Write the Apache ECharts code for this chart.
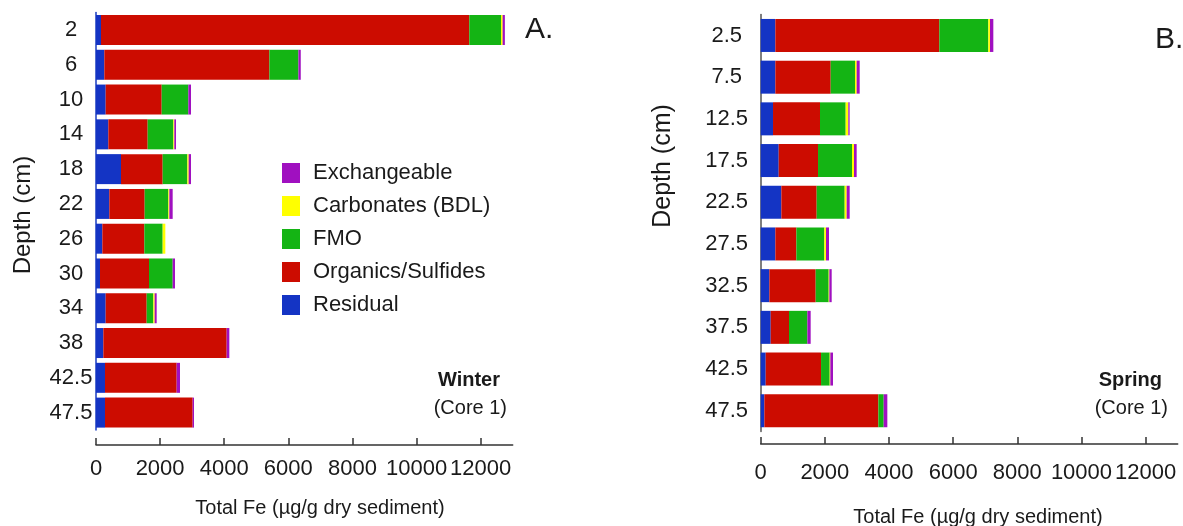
<!DOCTYPE html>
<html>
<head>
<meta charset="utf-8">
<script src="https://cdn.jsdelivr.net/npm/echarts@6/dist/echarts.min.js"></script>
<style>
html,body{margin:0;padding:0;background:#fff;}
#c{width:1183px;height:526px;}
</style>
</head>
<body>
<div id="c"></div>
<script>
// ---- Data ----
const winterDepths = ['2','6','10','14','18','22','26','30','34','38','42.5','47.5'];
const winterResidual     = [156, 260, 302, 385, 780, 416, 198, 125, 302, 229, 281, 281];
const winterOrganics     = [11490, 5150, 1747, 1227, 1300, 1102, 1310, 1529, 1279, 3848, 2236, 2735];
const winterFMO          = [990, 905, 832, 801, 770, 739, 572, 738, 208, 0, 0, 0];
const winterCarbonates   = [50, 0, 0, 31, 41, 31, 83, 0, 41, 0, 0, 0];
const winterExchangeable = [70, 73, 83, 52, 73, 104, 0, 73, 63, 83, 104, 42];

const springDepths = ['2.5','7.5','12.5','17.5','22.5','27.5','32.5','37.5','42.5','47.5'];
const springResidual     = [457, 457, 384, 561, 644, 457, 270, 312, 156, 114];
const springOrganics     = [5112, 1725, 1465, 1226, 1101, 655, 1444, 571, 1725, 3554];
const springFMO          = [1527, 758, 800, 1060, 873, 872, 405, 572, 270, 166];
const springCarbonates   = [52, 52, 83, 62, 62, 52, 21, 0, 20, 0];
const springExchangeable = [104, 94, 40, 83, 94, 94, 73, 103, 83, 114];

const xTickLabels = ['0', '2000', '4000', '6000', '8000', '10000', '12000'];
const fractionNames = ['Residual', 'Organics/Sulfides', 'FMO', 'Carbonates (BDL)', 'Exchangeable'];
const legendOrder = ['Exchangeable', 'Carbonates (BDL)', 'FMO', 'Organics/Sulfides', 'Residual'];

// ---- Styles ----
const colors = {
  'Residual': '#1434c4',
  'Organics/Sulfides': '#cc0c00',
  'FMO': '#14b414',
  'Carbonates (BDL)': '#ffff00',
  'Exchangeable': '#a010c0'
};
const FONT = 'Liberation Sans, Arial, sans-serif';
const TXT = '#1a1a1a';
const X_MAX = 13000;

const chart = echarts.init(document.getElementById('c'), null, {renderer: 'canvas'});

function makeSeries(gridIdx, arrays, barW) {
  return fractionNames.map((name, i) => ({
    name: name,
    type: 'bar',
    stack: 'g' + gridIdx,
    xAxisIndex: gridIdx,
    yAxisIndex: gridIdx,
    barWidth: barW,
    itemStyle: {color: colors[name]},
    emphasis: {disabled: true},
    data: arrays[i]
  }));
}

function xAxisDef(gridIdx, offset, margin) {
  return {
    type: 'value',
    gridIndex: gridIdx,
    min: 0, max: X_MAX, interval: 2000,
    offset: offset,
    splitLine: {show: false},
    axisLine: {show: true, lineStyle: {color: '#333', width: 1.5}},
    axisTick: {show: true, inside: true, length: 7, lineStyle: {color: '#333', width: 1.5},
      interval: function (idx, val) { return xTickLabels.indexOf(String(val)) >= 0; }},
    axisLabel: {fontFamily: FONT, fontSize: 22, color: TXT, margin: margin,
      showMaxLabel: false, hideOverlap: false,
      formatter: function (v) { const s = String(v); return xTickLabels.indexOf(s) >= 0 ? s : ''; }}
  };
}

function yAxisDef(gridIdx, cats, lineColor, margin) {
  return {
    type: 'category',
    gridIndex: gridIdx,
    data: cats,
    inverse: true,
    axisLine: {show: true, lineStyle: {color: lineColor, width: 1.5}},
    axisTick: {show: false},
    axisLabel: {fontFamily: FONT, fontSize: 22, color: TXT, align: 'center', margin: margin}
  };
}

const option = {
  animation: false,
  backgroundColor: '#fff',
  grid: [
    {left: 96, top: 12.6, width: 416.7, height: 417.4},
    {left: 760.7, top: 14.6, width: 417, height: 417}
  ],
  xAxis: [xAxisDef(0, 15, 13), xAxisDef(1, 12.5, 18)],
  yAxis: [yAxisDef(0, winterDepths, '#1a3cc0', 25), yAxisDef(1, springDepths, '#555', 34)],
  legend: {
    data: legendOrder,
    orient: 'vertical',
    left: 277, top: 157,
    itemWidth: 18, itemHeight: 20, itemGap: 11,
    icon: 'rect',
    selectedMode: false,
    textStyle: {fontFamily: FONT, fontSize: 22, color: TXT, padding: [0, 0, 0, 8]}
  },
  series: [
    ...makeSeries(0, [winterResidual, winterOrganics, winterFMO, winterCarbonates, winterExchangeable], 30),
    ...makeSeries(1, [springResidual, springOrganics, springFMO, springCarbonates, springExchangeable], 33)
  ],
  graphic: [
    {type: 'text', x: 525, y: 30, style: {text: 'A.', font: '30px ' + FONT, fill: TXT, textVerticalAlign: 'middle'}},
    {type: 'text', x: 1155, y: 40, style: {text: 'B.', font: '30px ' + FONT, fill: TXT, textVerticalAlign: 'middle'}},
    {type: 'text', x: 500, y: 380, style: {text: 'Winter', font: 'bold 20px ' + FONT, fill: TXT, textAlign: 'right', textVerticalAlign: 'middle'}},
    {type: 'text', x: 507, y: 408, style: {text: '(Core 1)', font: '20px ' + FONT, fill: TXT, textAlign: 'right', textVerticalAlign: 'middle'}},
    {type: 'text', x: 1162, y: 380, style: {text: 'Spring', font: 'bold 20px ' + FONT, fill: TXT, textAlign: 'right', textVerticalAlign: 'middle'}},
    {type: 'text', x: 1168, y: 408, style: {text: '(Core 1)', font: '20px ' + FONT, fill: TXT, textAlign: 'right', textVerticalAlign: 'middle'}},
    {type: 'text', x: 23, y: 215, rotation: Math.PI / 2, style: {text: 'Depth (cm)', font: '24px ' + FONT, fill: TXT, textAlign: 'center', textVerticalAlign: 'middle'}},
    {type: 'text', x: 663, y: 166, rotation: Math.PI / 2, style: {text: 'Depth (cm)', font: '25px ' + FONT, fill: TXT, textAlign: 'center', textVerticalAlign: 'middle'}},
    {type: 'text', x: 320, y: 508, style: {text: 'Total Fe (µg/g dry sediment)', font: '20px ' + FONT, fill: TXT, textAlign: 'center', textVerticalAlign: 'middle'}},
    {type: 'text', x: 978, y: 517, style: {text: 'Total Fe (µg/g dry sediment)', font: '20px ' + FONT, fill: TXT, textAlign: 'center', textVerticalAlign: 'middle'}}
  ]
};
chart.setOption(option);
</script>
</body>
</html>
